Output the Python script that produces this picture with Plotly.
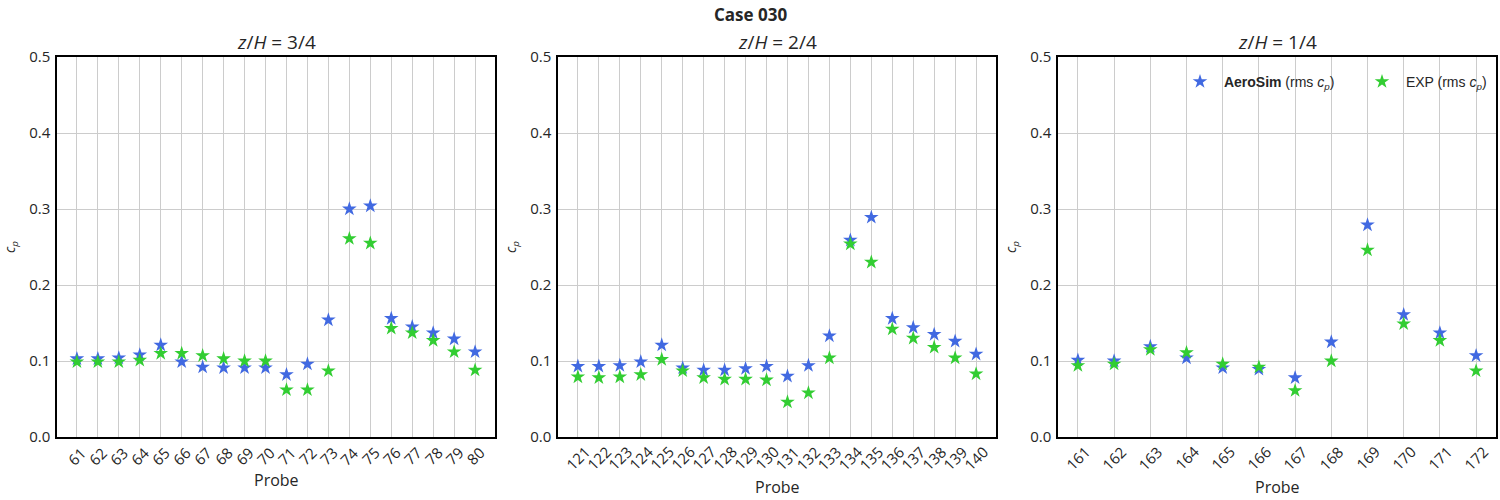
import plotly.graph_objects as go

probes_1 = list(range(61, 81))
aero_1 = [0.103, 0.103, 0.104, 0.108, 0.121, 0.099, 0.092, 0.091, 0.091, 0.091,
          0.082, 0.096, 0.154, 0.300, 0.304, 0.156, 0.145, 0.137, 0.129, 0.112]
exp_1 = [0.099, 0.099, 0.099, 0.101, 0.110, 0.110, 0.107, 0.103, 0.100, 0.100,
         0.062, 0.062, 0.087, 0.261, 0.255, 0.143, 0.137, 0.127, 0.112, 0.088]

probes_2 = list(range(121, 141))
aero_2 = [0.093, 0.093, 0.094, 0.099, 0.121, 0.091, 0.088, 0.088, 0.090, 0.093,
          0.080, 0.094, 0.133, 0.259, 0.289, 0.156, 0.144, 0.135, 0.126, 0.109]
exp_2 = [0.079, 0.078, 0.079, 0.082, 0.102, 0.087, 0.078, 0.076, 0.076, 0.075,
         0.046, 0.058, 0.104, 0.254, 0.230, 0.142, 0.130, 0.118, 0.104, 0.083]

probes_3 = list(range(161, 173))
aero_3 = [0.101, 0.100, 0.119, 0.104, 0.091, 0.089, 0.078, 0.125, 0.279, 0.161, 0.137, 0.107]
exp_3 = [0.094, 0.096, 0.115, 0.111, 0.096, 0.092, 0.061, 0.100, 0.246, 0.149, 0.127, 0.087]

panel_titles = ["<i>z</i>/<i>H</i> = 3/4", "<i>z</i>/<i>H</i> = 2/4", "<i>z</i>/<i>H</i> = 1/4"]
yticks = [0.0, 0.1, 0.2, 0.3, 0.4, 0.5]

BLUE = "#4169E1"
GREEN = "#32CD32"
FONT = "Open Sans"
TXT = "#262626"

panels = [(probes_1, aero_1, exp_1), (probes_2, aero_2, exp_2), (probes_3, aero_3, exp_3)]
xdomains = [(57 / 1500, 495 / 1500), (558 / 1500, 996 / 1500), (1058 / 1500, 1496 / 1500)]
ydomain = ((500 - 437) / 500, (500 - 57) / 500)
ticklabel_y = [456, 458, 458]
probe_title_y = [480, 487, 487]

fig = go.Figure()
annotations = []
for i, (probes, aero, exp) in enumerate(panels):
    ax = "" if i == 0 else str(i + 1)
    fig.add_trace(go.Scatter(
        x=probes, y=aero, mode="markers", xaxis="x" + ax, yaxis="y" + ax,
        marker=dict(symbol="star", size=11, color=BLUE, line=dict(width=0)),
        name="&nbsp;<b>AeroSim</b> (rms <i>c<sub>p</sub></i>)", showlegend=(i == 2)))
    fig.add_trace(go.Scatter(
        x=probes, y=exp, mode="markers", xaxis="x" + ax, yaxis="y" + ax,
        marker=dict(symbol="star", size=11, color=GREEN, line=dict(width=0)),
        name="&nbsp;EXP (rms <i>c<sub>p</sub></i>)", showlegend=(i == 2)))
    pad = (probes[-1] - probes[0]) * 0.05
    xa = dict(domain=list(xdomains[i]), anchor="y" + ax, automargin=False,
              range=[probes[0] - pad, probes[-1] + pad],
              tickvals=probes, showticklabels=False,
              showgrid=True, gridcolor="#cccccc", gridwidth=1,
              showline=True, linecolor="black", linewidth=1.5, mirror=True,
              ticks="", zeroline=False)
    ya = dict(domain=list(ydomain), anchor="x" + ax, range=[0, 0.5], automargin=False,
              tickvals=yticks, ticktext=["%.1f" % v for v in yticks],
              showgrid=True, gridcolor="#cccccc", gridwidth=1,
              showline=True, linecolor="black", linewidth=1.5, mirror=True,
              ticks="", zeroline=False, ticklabelstandoff=2,
              tickfont=dict(family=FONT, size=15, color=TXT))
    fig.update_layout(**{"xaxis" + ax: xa, "yaxis" + ax: ya})
    # rotated, centred tick labels (matplotlib style)
    for p in probes:
        annotations.append(dict(
            text=str(p), x=p, xref="x" + ax, y=(500 - ticklabel_y[i]) / 500, yref="paper",
            xanchor="center", yanchor="middle", textangle=-45, showarrow=False,
            font=dict(family=FONT, size=15, color=TXT)))
    xc = (xdomains[i][0] + xdomains[i][1]) / 2
    annotations.append(dict(
        text="Probe", x=xc, y=(500 - probe_title_y[i]) / 500, xref="paper", yref="paper",
        xanchor="center", yanchor="middle", showarrow=False,
        font=dict(family=FONT, size=16, color=TXT)))
    annotations.append(dict(
        text="<i>c<sub>p</sub></i>", x=(xdomains[i][0] * 1500 - 47) / 1500, y=(500 - 247) / 500,
        xref="paper", yref="paper", xanchor="center", yanchor="middle", textangle=-90,
        showarrow=False, font=dict(family=FONT, size=14, color=TXT)))
    annotations.append(dict(
        text=panel_titles[i], x=xc, y=(500 - 42) / 500,
        xref="paper", yref="paper", xanchor="center", yanchor="middle", showarrow=False,
        font=dict(family=FONT, size=19, color=TXT)))

annotations.append(dict(
    text="<b>Case 030</b>", x=0.5, y=(500 - 14) / 500, xref="paper", yref="paper",
    xanchor="center", yanchor="middle", showarrow=False,
    font=dict(family=FONT, size=17, color=TXT)))

fig.update_layout(
    width=1500, height=500,
    margin=dict(l=0, r=0, t=0, b=0, autoexpand=False),
    paper_bgcolor="white", plot_bgcolor="white",
    annotations=annotations,
    showlegend=True,
    legend=dict(orientation="h", x=1180 / 1500, y=(500 - 66) / 500,
                xanchor="left", yanchor="top", bgcolor="rgba(0,0,0,0)",
                entrywidth=137, entrywidthmode="pixels",
                font=dict(family="Liberation Sans", size=14, color=TXT)),
)

fig.write_html("out.html")
